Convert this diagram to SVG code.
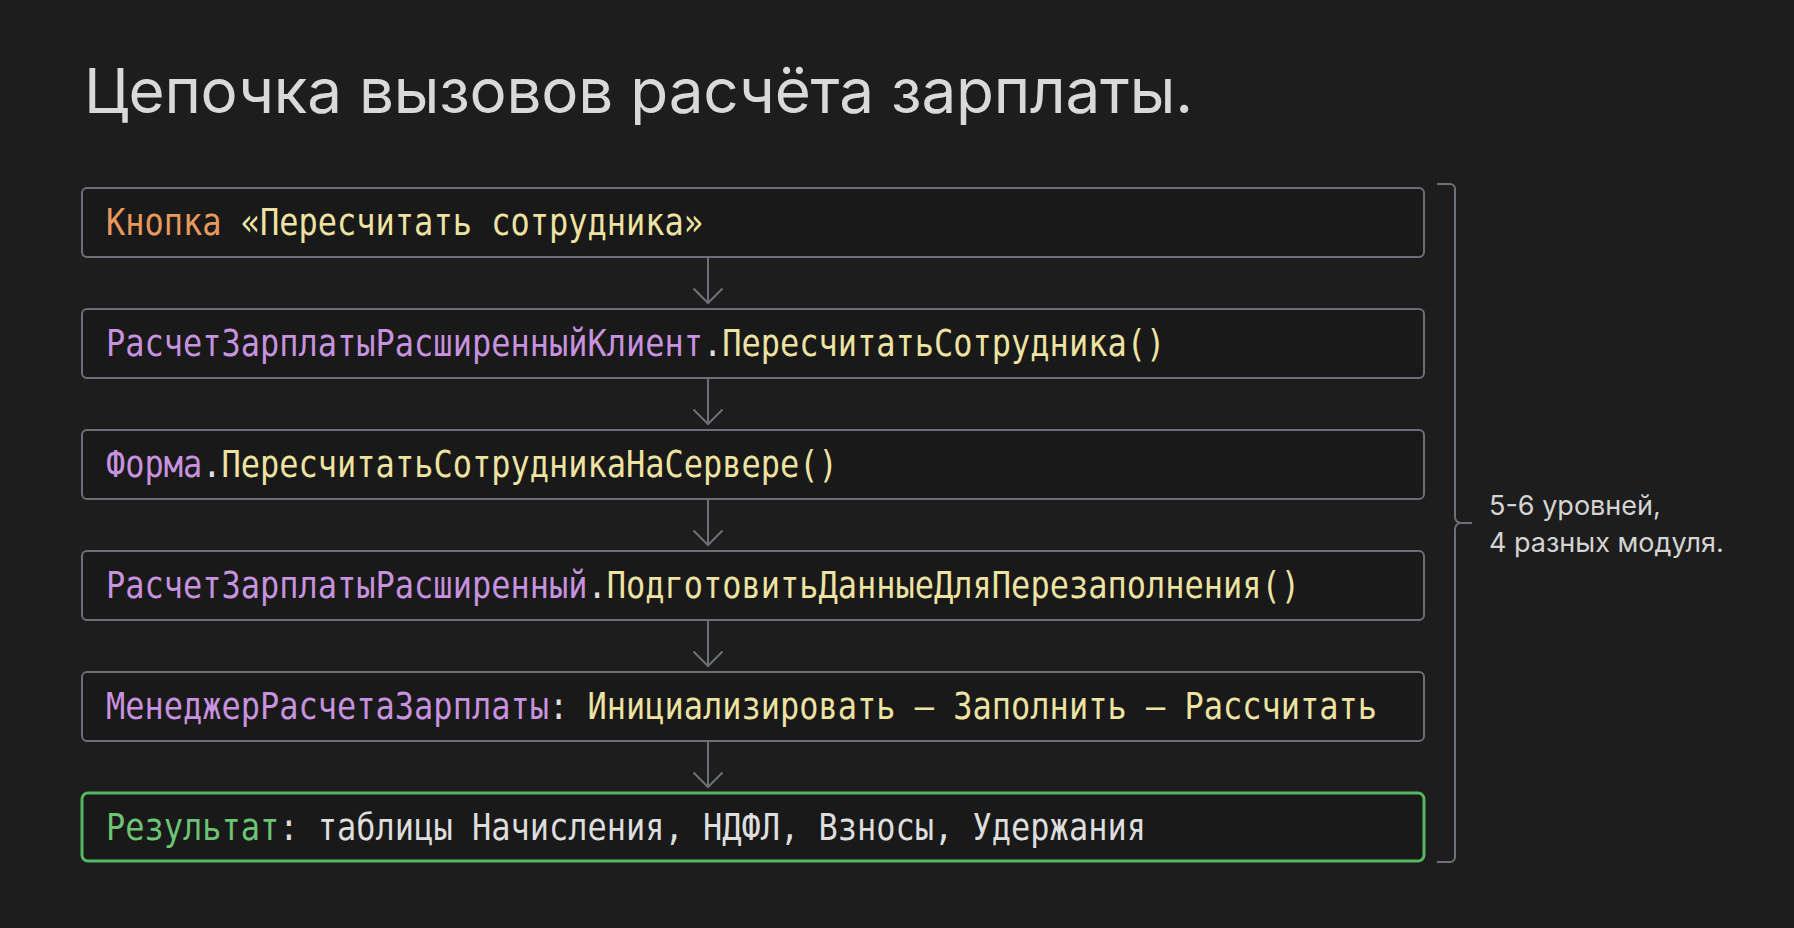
<svg xmlns="http://www.w3.org/2000/svg" width="1794" height="928" viewBox="0 0 1794 928">
<defs>
<style>
.bg{fill:#1d1d1d}
.box{fill:#191919;stroke:#6c6f75;stroke-width:2}
.res{fill:#191919;stroke:#55b860;stroke-width:3}
.code{font-family:"DejaVu Sans Mono","Liberation Mono",monospace;font-size:32px}
.o{fill:#e89a5e}
.y{fill:#eee3a2}
.p{fill:#c792df}
.g{fill:#6cc474}
.w{fill:#dedede}
.conn{stroke:#6c7078;stroke-width:2;fill:none}
.title{font-family:Inter,"Liberation Sans","Noto Sans",sans-serif;font-size:62px;fill:#d9d9d9}
.note{font-family:Inter,"Liberation Sans","Noto Sans",sans-serif;font-size:27px;fill:#d4d4d4}
</style>
</defs>
<rect class="bg" x="0" y="0" width="1794" height="928"/>
<text class="title" x="84" y="113" textLength="1109">Цепочка вызовов расчёта зарплаты.</text>

<g id="connectors">
<line class="conn" x1="708" y1="258" x2="708" y2="302"/>
<path class="conn" d="M693.5,288.5 L708,303 L722.5,288.5"/>
<line class="conn" x1="708" y1="379" x2="708" y2="423"/>
<path class="conn" d="M693.5,409.5 L708,424 L722.5,409.5"/>
<line class="conn" x1="708" y1="500" x2="708" y2="544"/>
<path class="conn" d="M693.5,530.5 L708,545 L722.5,530.5"/>
<line class="conn" x1="708" y1="621" x2="708" y2="665"/>
<path class="conn" d="M693.5,651.5 L708,666 L722.5,651.5"/>
<line class="conn" x1="708" y1="742" x2="708" y2="786"/>
<path class="conn" d="M693.5,772.5 L708,787 L722.5,772.5"/>
</g>

<g id="node1">
<rect class="box" x="82" y="188" width="1342" height="69" rx="5"/>
<text class="code" transform="translate(106,235) scale(1,1.15)"><tspan class="o">Кнопка</tspan><tspan class="y"> «Пересчитать сотрудника»</tspan></text>
</g>
<g id="node2">
<rect class="box" x="82" y="309" width="1342" height="69" rx="5"/>
<text class="code" transform="translate(106,356) scale(1,1.15)"><tspan class="p">РасчетЗарплатыРасширенныйКлиент</tspan><tspan class="w">.</tspan><tspan class="y">ПересчитатьСотрудника()</tspan></text>
</g>
<g id="node3">
<rect class="box" x="82" y="430" width="1342" height="69" rx="5"/>
<text class="code" transform="translate(106,477) scale(1,1.15)"><tspan class="p">Форма</tspan><tspan class="w">.</tspan><tspan class="y">ПересчитатьСотрудникаНаСервере()</tspan></text>
</g>
<g id="node4">
<rect class="box" x="82" y="551" width="1342" height="69" rx="5"/>
<text class="code" transform="translate(106,598) scale(1,1.15)"><tspan class="p">РасчетЗарплатыРасширенный</tspan><tspan class="w">.</tspan><tspan class="y">ПодготовитьДанныеДляПерезаполнения()</tspan></text>
</g>
<g id="node5">
<rect class="box" x="82" y="672" width="1342" height="69" rx="5"/>
<text class="code" transform="translate(106,719) scale(1,1.15)"><tspan class="p">МенеджерРасчетаЗарплаты</tspan><tspan class="w">:</tspan><tspan class="y"> Инициализировать — Заполнить — Рассчитать</tspan></text>
</g>
<g id="node6">
<rect class="res" x="82" y="793" width="1342" height="68" rx="6"/>
<text class="code" transform="translate(106,840) scale(1,1.15)"><tspan class="g">Результат</tspan><tspan class="w">: таблицы Начисления, НДФЛ, Взносы, Удержания</tspan></text>
</g>

<g id="bracket">
<path class="conn" d="M1437,184 H1450 A5,5 0 0 1 1455,189 V517 A6,6 0 0 0 1461,523 H1472 M1461,523 A6,6 0 0 0 1455,529 V857 A5,5 0 0 1 1450,862 H1437"/>
<text class="note" x="1489" y="515">5-6 уровней,</text>
<text class="note" x="1489" y="552">4 разных модуля.</text>
</g>
</svg>
